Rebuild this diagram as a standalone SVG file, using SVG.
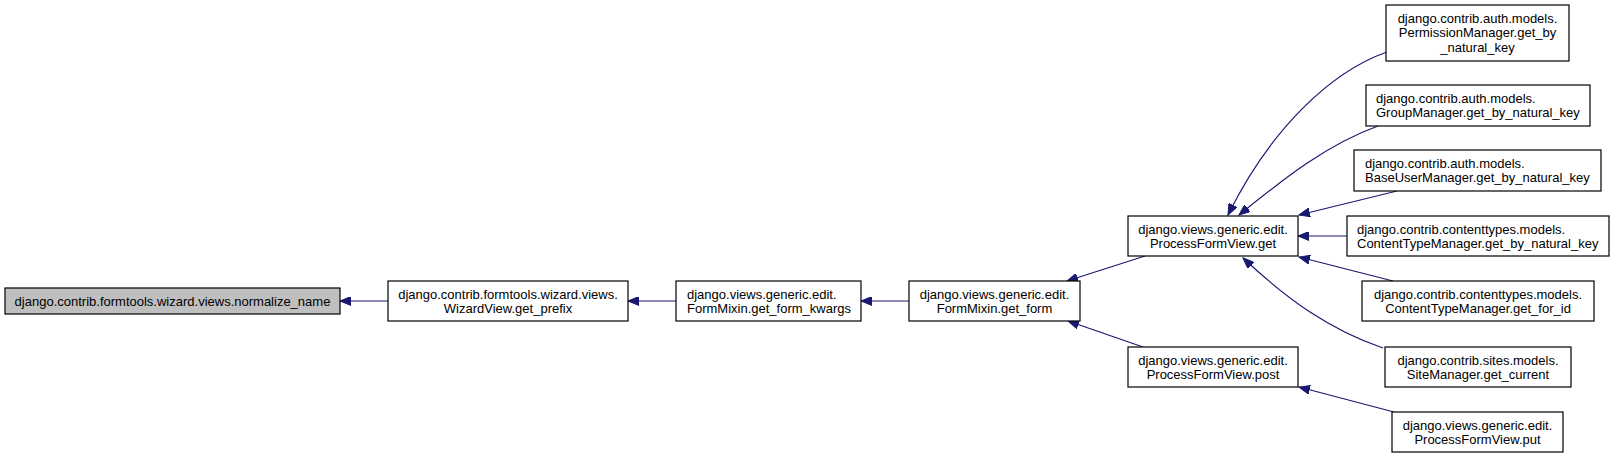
<svg xmlns="http://www.w3.org/2000/svg" width="1615" height="458" viewBox="0 0 1615 458">
<defs>
<style>
.box{fill:#fff;stroke:#000;stroke-width:1.2}
.hl{fill:#bfbfbf}
text{font-family:"Liberation Sans",Arial,sans-serif;font-size:13px;fill:#000}
.c{text-anchor:middle}
.e{fill:none;stroke:#191970;stroke-width:1.2;marker-end:url(#ah)}
</style>
<marker id="ah" markerUnits="userSpaceOnUse" markerWidth="12" markerHeight="9" refX="11" refY="4.5" orient="auto">
<path d="M0,0 L11,4.5 L0,9 z" fill="#191970" stroke="#191970" stroke-width="1"/>
</marker>
</defs>
<rect width="1615" height="458" fill="#fff"/>
<g id="connectors">
<path class="e" d="M388,301 L340,301"/>
<path class="e" d="M676,301 L628,301"/>
<path class="e" d="M909,301 L861,301"/>
<path class="e" d="M1145,256 L1067,281"/>
<path class="e" d="M1143,347 L1068,321"/>
<path class="e" d="M1387,52 C1330,72 1270,130 1228,215"/>
<path class="e" d="M1378,126 C1325,145 1280,182 1239,215"/>
<path class="e" d="M1397,191 L1299,215"/>
<path class="e" d="M1347,236 L1298,236"/>
<path class="e" d="M1393,281 L1299,257"/>
<path class="e" d="M1383,348 C1330,330 1288,300 1243,258"/>
<path class="e" d="M1394,412 L1299,387"/>
</g>
<g id="n1"><rect class="box hl" x="5" y="288" width="335" height="26"/><text class="c" x="172.5" y="305.5">django.contrib.formtools.wizard.views.normalize_name</text></g>
<g id="n2"><rect class="box" x="388" y="281" width="240" height="40"/><text class="c" x="508" y="298.5">django.contrib.formtools.wizard.views.</text><text class="c" x="508" y="313">WizardView.get_prefix</text></g>
<g id="n3"><rect class="box" x="676" y="281" width="185" height="40"/><text x="687" y="298.5">django.views.generic.edit.</text><text x="687" y="313">FormMixin.get_form_kwargs</text></g>
<g id="n4"><rect class="box" x="909" y="281" width="171" height="40"/><text class="c" x="994.5" y="298.5">django.views.generic.edit.</text><text class="c" x="994.5" y="313">FormMixin.get_form</text></g>
<g id="n5"><rect class="box" x="1128" y="216" width="170" height="40"/><text class="c" x="1213" y="233.5">django.views.generic.edit.</text><text class="c" x="1213" y="248">ProcessFormView.get</text></g>
<g id="n6"><rect class="box" x="1128" y="347" width="170" height="40"/><text class="c" x="1213" y="364.5">django.views.generic.edit.</text><text class="c" x="1213" y="379">ProcessFormView.post</text></g>
<g id="n7"><rect class="box" x="1386" y="5" width="183" height="56"/><text class="c" x="1477.5" y="22.5">django.contrib.auth.models.</text><text class="c" x="1477.5" y="37">PermissionManager.get_by</text><text class="c" x="1477.5" y="51.5">_natural_key</text></g>
<g id="n8"><rect class="box" x="1366" y="85" width="224" height="41"/><text x="1376" y="102.5">django.contrib.auth.models.</text><text x="1376" y="117">GroupManager.get_by_natural_key</text></g>
<g id="n9"><rect class="box" x="1354" y="150" width="247" height="41"/><text x="1365" y="167.5">django.contrib.auth.models.</text><text x="1365" y="182">BaseUserManager.get_by_natural_key</text></g>
<g id="n10"><rect class="box" x="1347" y="216" width="262" height="40"/><text x="1357" y="233.5">django.contrib.contenttypes.models.</text><text x="1357" y="248">ContentTypeManager.get_by_natural_key</text></g>
<g id="n11"><rect class="box" x="1362" y="281" width="232" height="40"/><text class="c" x="1478" y="298.5">django.contrib.contenttypes.models.</text><text class="c" x="1478" y="313">ContentTypeManager.get_for_id</text></g>
<g id="n12"><rect class="box" x="1385" y="347" width="186" height="40"/><text class="c" x="1478" y="364.5">django.contrib.sites.models.</text><text class="c" x="1478" y="379">SiteManager.get_current</text></g>
<g id="n13"><rect class="box" x="1392" y="412" width="171" height="40"/><text class="c" x="1477.5" y="429.5">django.views.generic.edit.</text><text class="c" x="1477.5" y="444">ProcessFormView.put</text></g>
</svg>
